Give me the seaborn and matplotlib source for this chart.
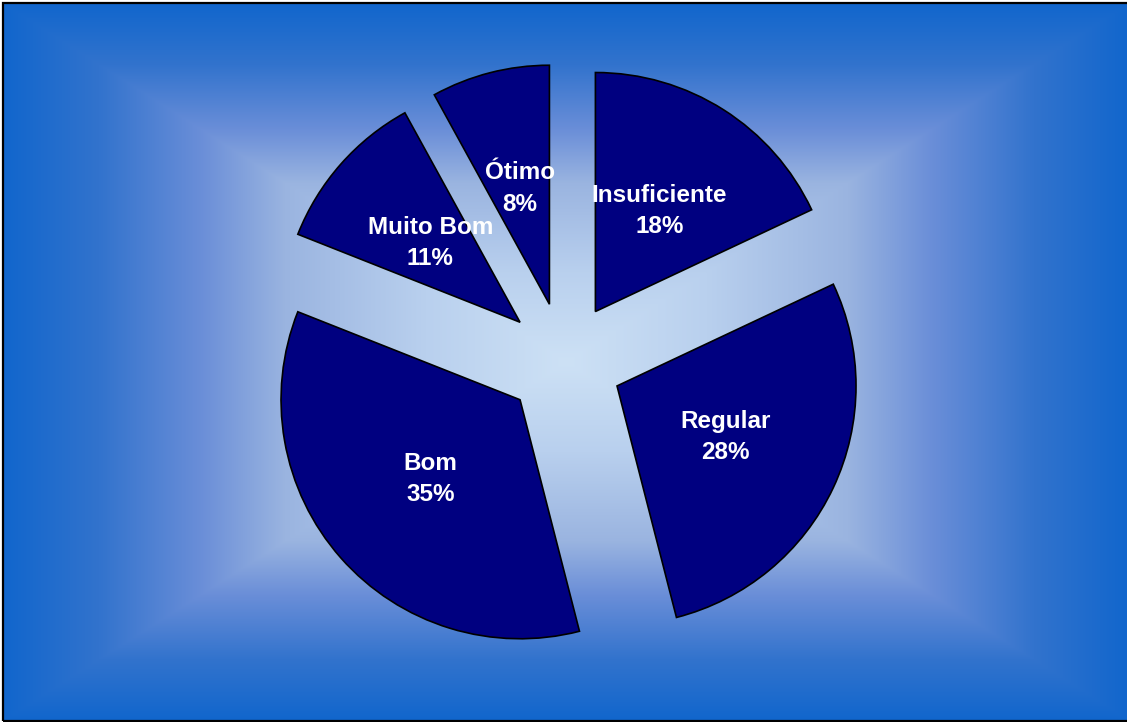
import numpy as np
import matplotlib
matplotlib.use("Agg")
import matplotlib.pyplot as plt
import seaborn as sns
from matplotlib.patches import Rectangle

categories = ["Insuficiente", "Regular", "Bom", "Muito Bom", "Ótimo"]
percent = [18, 28, 35, 11, 8]
labels = [f"{c}\n{p}%" for c, p in zip(categories, percent)]

sns.set_theme(style="white")
plt.rcParams['font.family'] = ['Liberation Sans', 'DejaVu Sans']

W, H = 1127, 722
fig = plt.figure(figsize=(W / 100, H / 100), dpi=100)
ax = fig.add_axes([0, 0, 1, 1])

# rectangular "from center" gradient background, colour stops
x0, x1, y0, y1 = 3, 1130, 1, 719
cx, cy = (x0 + x1) / 2, (y0 + y1) / 2
xs = np.linspace(x0, x1, 800)
ys = np.linspace(y0, y1, 520)
gx, gy = np.meshgrid(xs, ys)
t = np.maximum(np.abs(gx - cx) / ((x1 - x0) / 2), np.abs(gy - cy) / ((y1 - y0) / 2))
t = np.clip(t, 0, 1)
stops = [0.0, 0.25, 0.5, 0.65, 0.83, 1.0]
stop_rgb = np.array([[205, 225, 245], [185, 208, 238], [154, 180, 224],
                     [106, 142, 216], [50, 115, 205], [17, 102, 204]]) / 255
img = np.stack([np.interp(t, stops, stop_rgb[:, k]) for k in range(3)], axis=-1)
ax.imshow(img, extent=(x0, x1, y0, y1), origin="lower", aspect="auto", zorder=0)

r = 239
wedges, texts = ax.pie(percent, labels=labels, radius=r, center=(564, H - 361),
                       startangle=90, counterclock=False, explode=[58.6] * len(percent),
                       colors=["#000080"] * len(percent), labeldistance=0.5,
                       wedgeprops=dict(edgecolor="black", linewidth=1.2),
                       textprops=dict(color="white", fontsize=17.5, fontweight="bold",
                                      ha="center", va="center"),
                       frame=False)
for txt in texts:
    txt.set_linespacing(1.45)

ax.add_patch(Rectangle((x0, y0), x1 - x0, y1 - y0, fill=False,
                       edgecolor="black", linewidth=1.6, zorder=5))
ax.set_xlim(0, W)
ax.set_ylim(0, H)
ax.set_aspect("auto")
ax.axis("off")

fig.savefig("out.png", dpi=100, facecolor="white")
